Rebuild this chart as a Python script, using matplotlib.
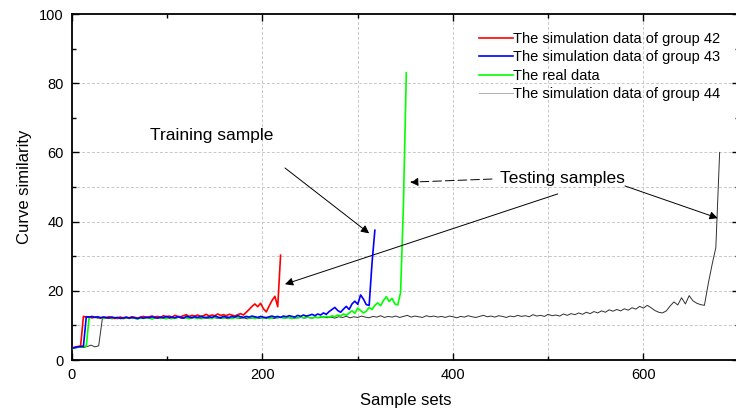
#!/usr/bin/env python3

# ========================================================================
#
# Imports
#
# ========================================================================
import numpy as np
import matplotlib as mpl
mpl.use('Agg')
import matplotlib.pyplot as plt
from matplotlib.ticker import MultipleLocator

# ========================================================================
#
# Data
#
# ========================================================================
plt.rc('font', family=['Liberation Sans', 'DejaVu Sans'])

labels = ['The simulation data of group 42',
          'The simulation data of group 43',
          'The real data',
          'The simulation data of group 44']

# group 42, one point every 3 samples
x42 = np.arange(0, 222, 3)
y42 = [3.5, 3.7, 3.9, 4.0,
       12.6, 12.4, 12.5, 12.2, 12.4, 12.3, 12.1, 12.4, 12.2, 12.5,
       12.3, 12.0, 12.2, 12.4, 12.1, 12.3, 12.2, 12.5, 12.3, 12.1,
       12.4, 12.6, 12.3, 12.5, 12.7, 12.4, 12.6, 12.3, 12.8, 12.5,
       12.7, 12.4, 12.9, 12.6, 12.5, 12.8, 13.1, 12.6, 12.9, 12.7,
       13.0, 12.6, 12.8, 13.2, 12.7, 13.0, 12.8, 13.3, 12.9, 13.1,
       12.8, 13.2, 13.0, 12.7, 13.1, 13.4, 13.0, 13.8, 14.6, 15.5,
       16.2, 15.4, 16.4, 14.8, 13.9, 15.6, 17.2, 18.4, 15.4, 30.3]

# group 43, one point every 3 samples
x43 = np.arange(0, 321, 3)
y43 = [3.4, 3.6, 3.8, 3.9, 4.0,
       12.5, 12.4, 12.6, 12.3, 12.5, 12.2, 12.4, 12.3, 12.1, 12.4,
       12.2, 12.3, 12.0, 12.2, 12.4, 12.1, 12.3, 12.2, 12.0, 12.3,
       12.1, 12.4, 12.2, 12.5, 12.3, 12.1, 12.4, 12.2, 12.6, 12.3,
       12.4, 12.2, 12.5, 12.3, 12.1, 12.6, 12.4, 12.2, 12.5, 12.3,
       12.6, 12.4, 12.2, 12.5, 12.3, 12.7, 12.4, 12.2, 12.6, 12.4,
       12.3, 12.6, 12.4, 12.8, 12.5, 12.3, 12.6, 12.4, 12.7, 12.5,
       12.3, 12.6, 12.4, 12.2, 12.5, 12.7, 12.4, 12.6, 12.3, 12.7,
       12.5, 12.8, 12.6, 12.4, 12.9, 12.6, 13.0, 12.7, 12.9, 13.2,
       12.8, 13.3, 13.0, 13.6, 13.2, 14.0, 14.6, 15.2, 14.3, 13.8,
       14.7, 15.5, 14.6, 16.2, 17.0, 16.1, 18.8, 17.6, 16.0, 15.8,
       28.0, 37.5]

# real data, one point every 3 samples
xreal = np.arange(0, 354, 3)
yreal = [3.3, 3.5, 3.7, 3.8, 3.9, 4.0,
         12.4, 12.2, 12.5, 12.1, 12.3, 12.0, 12.2, 12.4, 11.9, 12.2,
         12.1, 12.3, 11.9, 12.2, 12.0, 12.3, 12.1, 11.8, 12.2, 12.0,
         12.3, 12.1, 11.9, 12.2, 12.4, 12.0, 12.2, 11.9, 12.3, 12.1,
         12.0, 12.3, 12.5, 12.1, 12.2, 11.9, 12.4, 12.2, 12.0, 12.3,
         12.1, 12.4, 12.2, 12.0, 12.5, 12.2, 12.3, 12.1, 12.4, 12.2,
         12.0, 12.3, 12.1, 12.4, 12.2, 12.5, 12.1, 12.3, 12.0, 12.2,
         12.4, 12.1, 12.3, 12.0, 12.2, 12.5, 12.2, 12.4, 12.1, 12.3,
         12.2, 12.0, 12.3, 12.1, 12.4, 12.2, 12.5, 12.3, 12.1, 12.4,
         12.2, 12.5, 12.3, 12.6, 12.4, 12.8, 12.5, 13.0, 12.7, 13.3,
         12.9, 13.6, 14.2, 13.5, 15.0, 14.3, 13.6, 14.1, 15.2, 14.6,
         15.8, 16.5, 15.7, 17.2, 18.3, 16.9, 17.8, 16.2, 15.9, 19.5,
         45.0, 83.0]

# group 44, one point every 4 samples
x44 = np.arange(0, 684, 4)
y44 = [3.4, 3.5, 3.7, 3.6, 3.9, 4.3, 3.8, 4.1,
       12.2, 12.0, 12.3, 12.1, 11.9, 12.2, 12.0, 12.3, 12.1, 11.9, 12.2,
       12.0, 12.2, 11.9, 12.1, 12.3, 12.0, 12.2, 11.9, 12.1, 12.3, 12.0,
       12.2, 12.0, 12.3, 12.1, 11.9, 12.2, 12.0, 12.3, 12.1, 12.0, 12.2,
       11.9, 12.1, 12.3, 12.0, 12.2, 11.9, 12.1, 12.3, 12.0, 12.2, 12.1,
       12.3, 12.0, 12.2, 12.4, 12.1, 12.3, 12.0, 12.2, 12.4, 12.1, 12.3,
       12.1, 12.4, 12.2, 12.5, 12.2, 12.4, 12.1, 12.5, 12.3, 12.6, 12.2,
       12.5, 12.3, 12.7, 12.4, 12.2, 12.6, 12.4, 12.8, 12.3, 12.6, 12.4,
       12.7, 12.3, 12.6, 12.9, 12.4, 12.7, 12.5, 12.3, 12.8, 12.5, 12.7,
       12.4, 12.6, 12.3, 12.7, 12.5, 12.2, 12.6, 12.4, 12.8, 12.5, 12.3,
       12.6, 12.9, 12.5, 12.7, 12.4, 12.8, 12.6, 12.3, 12.7, 12.5, 12.9,
       12.6, 12.8, 12.5, 13.1, 12.7, 12.9, 12.6, 13.2, 12.8, 13.0, 12.7,
       13.3, 12.9, 13.4, 13.1, 13.6, 13.2, 13.8, 13.4, 14.0, 13.6, 14.2,
       13.8, 14.5, 14.1, 14.6, 14.2, 14.8, 14.4, 15.1, 14.7, 15.5,
       15.0, 15.8, 15.1, 14.3, 13.8, 13.6, 14.2, 15.6, 16.8, 15.9,
       18.0, 16.2, 18.6, 17.1, 16.4, 16.0, 15.8, 22.0, 27.5, 32.5,
       60.0]

# which grid lines the reference actually shows
xgrid = [200, 300, 400, 500, 600]
ygrid = [10, 20, 30, 40, 50, 60, 80]

# ========================================================================
#
# Plot
#
# ========================================================================
fig = plt.figure(figsize=(7.36, 4.12), dpi=100)
ax = fig.add_axes([72 / 736, 52 / 412, 666.7 / 736, 346 / 412])

for g in xgrid:
    ax.axvline(g, color='#c8c8c8', lw=0.7, ls=(0, (3, 2)), zorder=0)
for g in ygrid:
    ax.axhline(g, color='#c8c8c8', lw=0.7, ls=(0, (3, 2)), zorder=0)

ax.plot(x44, y44, color='#303030', lw=0.7, label=labels[3], zorder=2)
ax.plot(xreal, yreal, color='#00ff00', lw=1.2, label=labels[2], zorder=3)
ax.plot(x42, y42, color='#ff0000', lw=1.2, label=labels[0], zorder=4)
ax.plot(x43, y43, color='#0000ff', lw=1.2, label=labels[1], zorder=5)

# ======================================================================
# Annotations
ax.text(82, 65, 'Training sample', fontsize=12.5, va='center', ha='left')
ax.text(449, 52.6, 'Testing samples', fontsize=12.5, va='center', ha='left')

arrow = dict(arrowstyle='-|>', color='black', lw=0.7, mutation_scale=12,
             shrinkA=0, shrinkB=0)
ax.annotate('', xy=(312, 36.6), xytext=(223.6, 55.5), arrowprops=arrow)
ax.annotate('', xy=(223.6, 21.9), xytext=(510, 48), arrowprops=arrow)
ax.annotate('', xy=(678, 41), xytext=(580.6, 50.3), arrowprops=arrow)
dashed = dict(arrow, linestyle=(0, (9, 4)))
ax.annotate('', xy=(355, 51.4), xytext=(441, 52.3), arrowprops=dashed)

# ======================================================================
# Format the plot
ax.set_xlim(0, 700)
ax.set_ylim(0, 100)
ax.xaxis.set_major_locator(MultipleLocator(200))
ax.xaxis.set_minor_locator(MultipleLocator(100))
ax.yaxis.set_major_locator(MultipleLocator(20))
ax.yaxis.set_minor_locator(MultipleLocator(10))
ax.tick_params(which='both', direction='in', top=True, right=True,
               labelsize=10.5, width=1.0)
ax.tick_params(which='major', length=5, pad=6)
ax.tick_params(which='minor', length=3)
for s in ax.spines.values():
    s.set_linewidth(1.3)

ax.set_xlabel('Sample sets', fontsize=12, labelpad=8)
ax.set_ylabel('Curve similarity', fontsize=12, labelpad=5)

h, l = ax.get_legend_handles_labels()
order = [l.index(lab) for lab in labels]
leg = ax.legend([h[i] for i in order], [l[i] for i in order],
                loc='upper left', bbox_to_anchor=(0.611, 0.948),
                frameon=False, fontsize=10.5, handlelength=2.3,
                handletextpad=0.0, labelspacing=0.3, borderpad=0,
                borderaxespad=0)
leg.legend_handles[3].set_color('#b0b0b0')

fig.savefig('out.png', dpi=100)
